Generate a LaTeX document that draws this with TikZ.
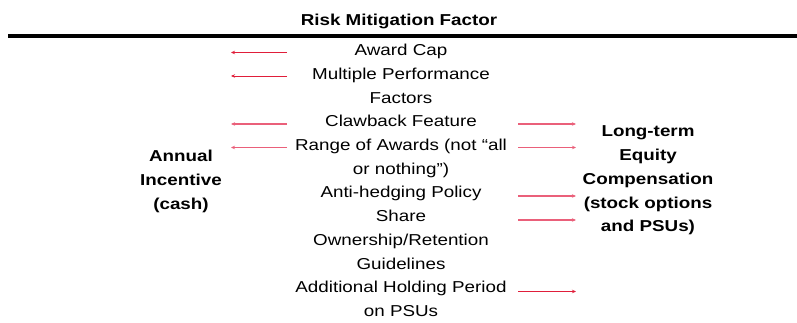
\documentclass[tikz,border=0pt]{standalone}
\usepackage{fontspec}
\setmainfont{Liberation Sans}[FakeStretch=1.19]
\usetikzlibrary{arrows.meta}
\definecolor{arrowred}{RGB}{224,30,58}
\definecolor{arrowpink}{RGB}{234,96,122}
\tikzset{
  item/.style={anchor=base, align=center, inner sep=0pt, font=\fontsize{11.85}{17.8}\selectfont},
  headtext/.style={item, font=\fontsize{11.85}{17.8}\selectfont\bfseries},
  redarrow/.style={color=arrowred, line width=0.6pt, -{Stealth[length=3pt,width=2.6pt]}},
  pinkarrow/.style={redarrow, color=arrowpink, line width=0.9pt}
}
\begin{document}
\begin{tikzpicture}[x=0.75pt,y=0.75pt,yscale=-1,xscale=1]
\useasboundingbox (0,0) rectangle (797,323);

% Title and rule
\node [headtext] (title) at (399,26) {Risk Mitigation Factor};
\draw [line width=2.4pt] (8,36) -- (797,36);

% Text Node (base = last line)
\node [item] (cap) at (401,55.5) {Award Cap};
% Text Node
\node [item] (perf) at (401,103.2) {Multiple Performance\\Factors};
% Text Node
\node [item] (claw) at (401,127) {Clawback Feature};
% Text Node
\node [item] (range) at (401,174.5) {Range of Awards (not “all\\or nothing”)};
% Text Node
\node [item] (hedge) at (401,198) {Anti-hedging Policy};
% Text Node
\node [item] (share) at (401,269.4) {Share\\Ownership/Retention\\Guidelines};
% Text Node
\node [item] (hold) at (401,316.7) {Additional Holding Period\\on PSUs};

% Text Node
\node [headtext] (annual) at (181,209.4) {Annual\\Incentive\\(cash)};
% Text Node
\node [headtext] (ltec) at (648,231.8) {Long-term\\Equity\\Compensation\\(stock options\\and PSUs)};

% arrow ends
\coordinate (capA) at (287,52.5);   \coordinate (capB) at (231,52.5);
\coordinate (perfA) at (287,76);    \coordinate (perfB) at (231,76);
\coordinate (clawA) at (287,124);   \coordinate (clawB) at (231,124);
\coordinate (rangeA) at (287,147.5);\coordinate (rangeB) at (231,147.5);
\coordinate (clawC) at (518,124);   \coordinate (clawD) at (576,124);
\coordinate (rangeC) at (518,147.5);\coordinate (rangeD) at (576,147.5);
\coordinate (hedgeC) at (518,196);  \coordinate (hedgeD) at (576,196);
\coordinate (shareC) at (518,220);  \coordinate (shareD) at (576,220);
\coordinate (holdC) at (518,291.5); \coordinate (holdD) at (576,291.5);

% to Annual Incentive
\draw [redarrow] (capA) -- (capB);
\draw [redarrow] (perfA) -- (perfB);
\draw [pinkarrow] (clawA) -- (clawB);
\draw [pinkarrow] (rangeA) -- (rangeB);
% to Long-term Equity
\draw [pinkarrow] (clawC) -- (clawD);
\draw [pinkarrow] (rangeC) -- (rangeD);
\draw [pinkarrow] (hedgeC) -- (hedgeD);
\draw [pinkarrow] (shareC) -- (shareD);
\draw [redarrow] (holdC) -- (holdD);

\end{tikzpicture}
\end{document}
